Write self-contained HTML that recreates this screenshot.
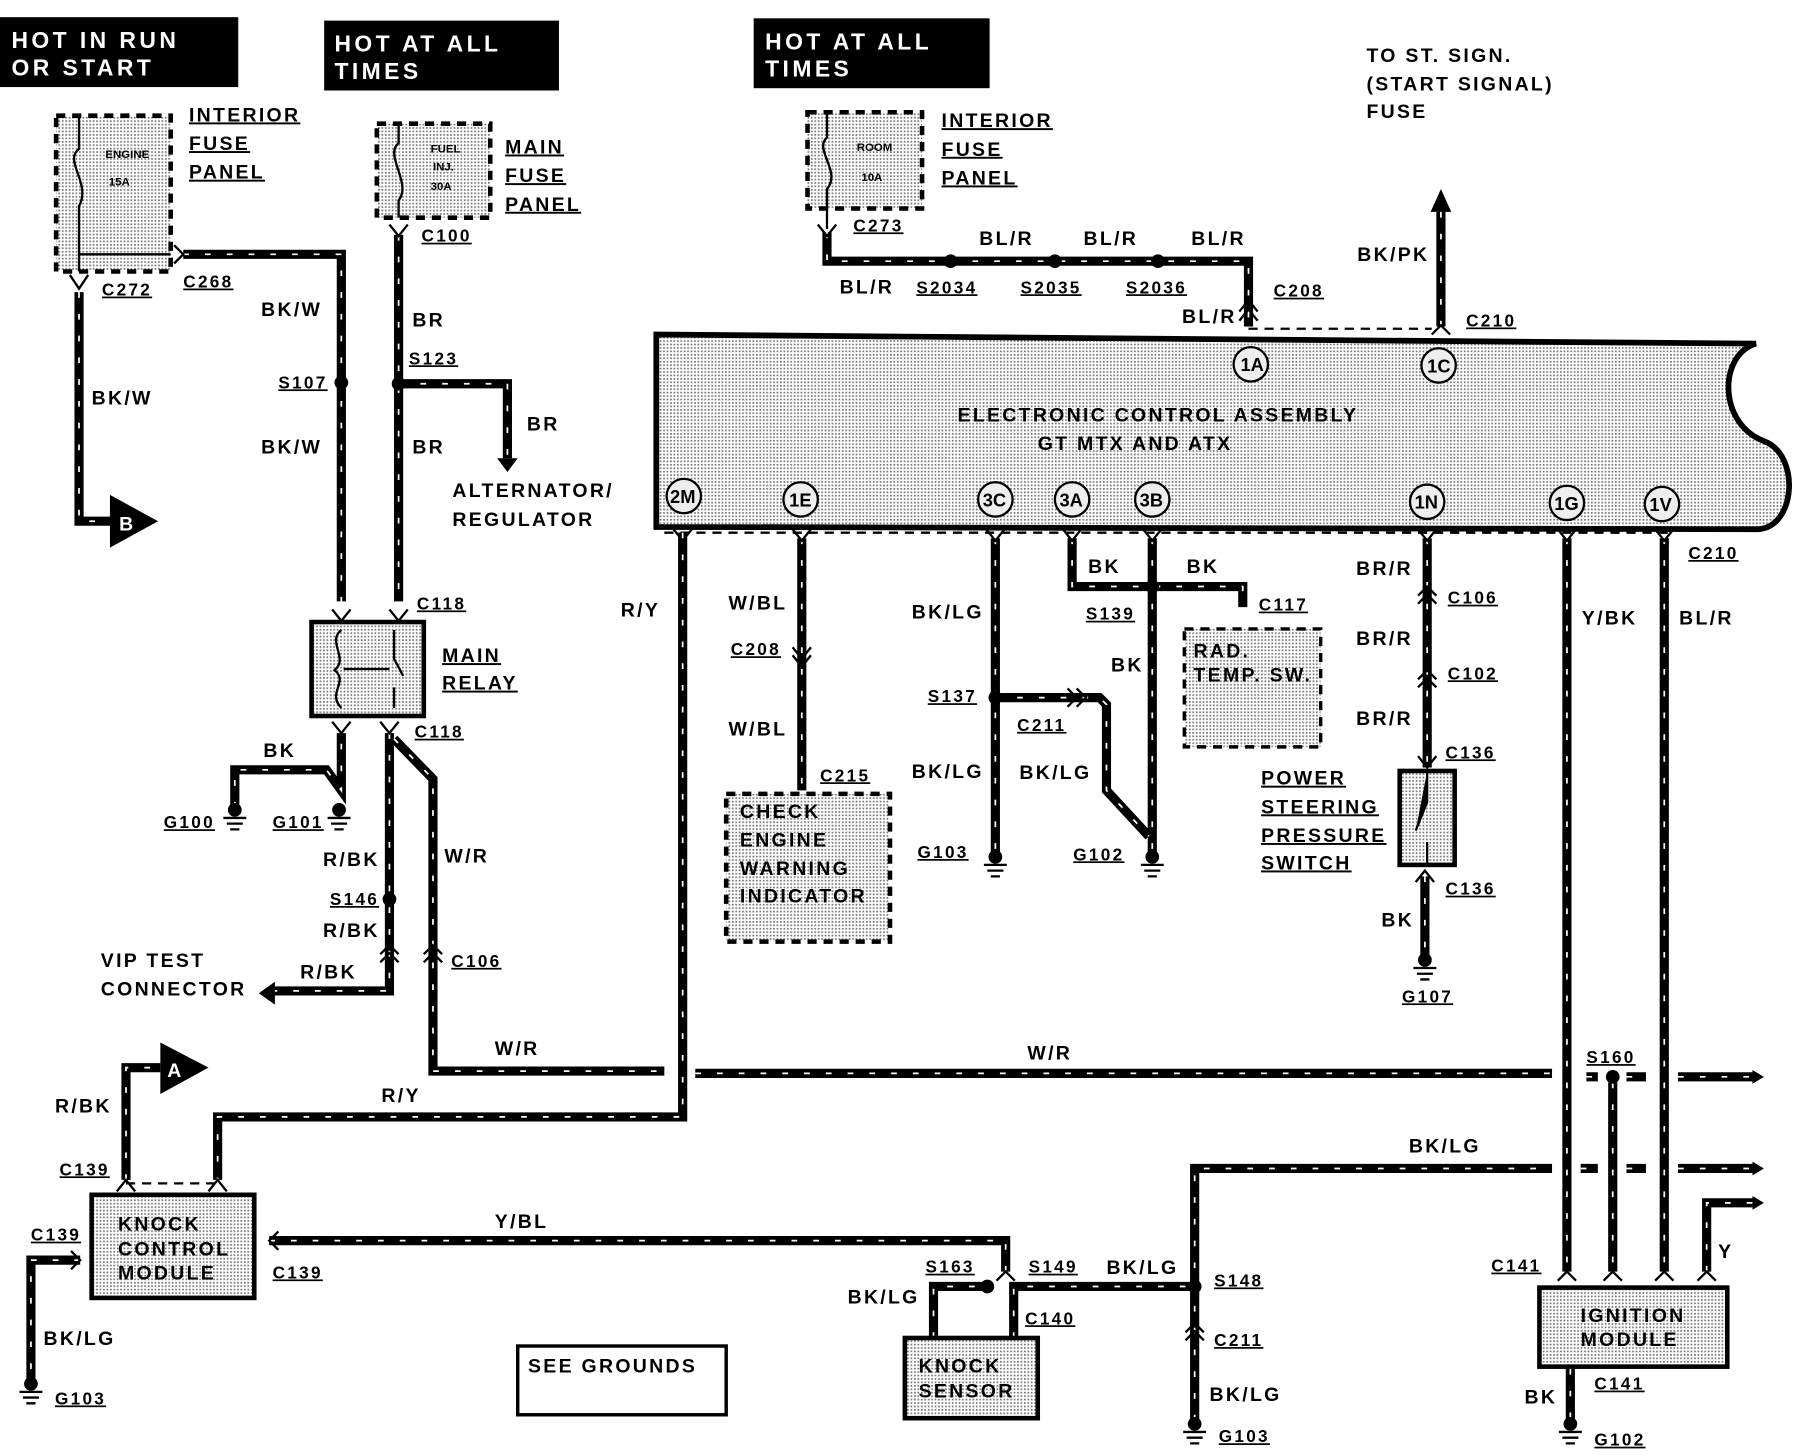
<!DOCTYPE html>
<html><head><meta charset="utf-8"><style>
html,body{margin:0;padding:0;background:#fff;}
svg{display:block;}
text{font-family:"Liberation Sans",sans-serif;font-weight:bold;font-size:17px;letter-spacing:2px;fill:#000;}
.u{text-decoration:underline;}
.h{fill:#fff;font-size:20px;letter-spacing:3px;}
.s{font-size:15px;}
.t{font-size:10px;letter-spacing:0;}
.c{font-size:16px;letter-spacing:0;}
</style></head><body>
<svg width="1796" height="1456" viewBox="0 0 1568 1271" preserveAspectRatio="none" xmlns="http://www.w3.org/2000/svg">
<defs>
<pattern id="st" width="3" height="3" patternUnits="userSpaceOnUse"><rect width="3" height="3" fill="#fff"/><rect width="1.5" height="1.5" fill="#777"/></pattern>
<g id="wires" fill="none">
<path d="M69 255 V455 H100"/>
<path d="M160 222 H298 V525"/>
<path d="M348 205 V525"/>
<path d="M348 335 H443 V400"/>
<path d="M205 705 V672 H285 L298 690 V640"/>
<path d="M340 640 V865 H240"/>
<path d="M344 645 L378 680 V935 H580"/>
<path d="M607 937 H1355 M1385 940 H1395 M1420 940 H1437 M1465 940 H1530"/>
<path d="M596 465 V975 H190 V1030"/>
<path d="M110 1030 V932 H140"/>
<path d="M70 1100 H27 V1205"/>
<path d="M235 1083 H878 V1110"/>
<path d="M815 1168 V1123 H860 M885 1168 V1123 H1043"/>
<path d="M1043 1240 V1020 H1355 M1380 1020 H1395 M1420 1020 H1437 M1465 1020 H1530"/>
<path d="M1368 470 V1110 M1408 945 V1110 M1453 470 V1110 M1490 1110 V1050 H1530"/>
<path d="M1371 1195 V1240"/>
<path d="M722 203 V228 H1090 V285"/>
<path d="M1258 285 V185"/>
<path d="M700 470 V690"/>
<path d="M869 470 V745 M869 609 H960 L966 615 V690 L1003 730"/>
<path d="M936 470 V512 H1085 V530 M1006 470 V745"/>
<path d="M1246 470 V670 M1244 765 V835"/>
</g>
</defs>
<rect width="1568" height="1271" fill="#fff"/>
<rect x="0" y="15" width="208" height="61" fill="#000"/>
<text class="h" x="10" y="42">HOT IN RUN</text><text class="h" x="10" y="66">OR START</text>
<rect x="283" y="18" width="205" height="61" fill="#000"/>
<text class="h" x="292" y="45">HOT AT ALL</text><text class="h" x="292" y="69">TIMES</text>
<rect x="658" y="16" width="206" height="61" fill="#000"/>
<text class="h" x="668" y="43">HOT AT ALL</text><text class="h" x="668" y="67">TIMES</text>
<text x="1193" y="54">TO ST. SIGN.</text><text x="1193" y="79">(START SIGNAL)</text><text x="1193" y="103">FUSE</text>
<rect x="49" y="101" width="100" height="136" fill="url(#st)" stroke="#000" stroke-width="4" stroke-dasharray="8 6"/>
<text class="t" x="92" y="138">ENGINE</text><text class="t" x="95" y="162">15A</text>
<path d="M69 101 V130 C55 140 80 160 69 180 V237 M69 222 H149" stroke="#000" stroke-width="2" fill="none"/>
<text class="u" x="165" y="106">INTERIOR</text><text class="u" x="165" y="131">FUSE</text><text class="u" x="165" y="156">PANEL</text>
<rect x="329" y="108" width="99" height="82" fill="url(#st)" stroke="#000" stroke-width="4" stroke-dasharray="8 6"/>
<text class="t" x="376" y="133">FUEL</text><text class="t" x="378" y="149">INJ.</text><text class="t" x="376" y="166">30A</text>
<path d="M348 108 V125 C335 135 360 160 348 175 V190" stroke="#000" stroke-width="2" fill="none"/>
<text class="u" x="441" y="134">MAIN</text><text class="u" x="441" y="159">FUSE</text><text class="u" x="441" y="184">PANEL</text>
<rect x="705" y="98" width="100" height="84" fill="url(#st)" stroke="#000" stroke-width="4" stroke-dasharray="8 6"/>
<text class="t" x="748" y="132">ROOM</text><text class="t" x="752" y="158">10A</text>
<path d="M722 98 V120 C710 130 735 150 722 165 V200" stroke="#000" stroke-width="2" fill="none"/>
<text class="u" x="822" y="111">INTERIOR</text><text class="u" x="822" y="136">FUSE</text><text class="u" x="822" y="161">PANEL</text>
<path d="M573 292 L1533 300 C1500 310 1500 370 1540 385 C1572 397 1568 460 1535 462 L573 460 Z" fill="url(#st)" stroke="#000" stroke-width="5"/>
<text x="836" y="368">ELECTRONIC CONTROL ASSEMBLY</text><text x="906" y="393">GT MTX AND ATX</text>
<g fill="#eee" stroke="#000" stroke-width="2">
<circle cx="1092" cy="318" r="15"/><circle cx="1256" cy="319" r="15"/><circle cx="597" cy="433" r="15"/><circle cx="699" cy="436" r="15"/><circle cx="869" cy="436" r="15"/><circle cx="936" cy="436" r="15"/><circle cx="1006" cy="436" r="15"/><circle cx="1246" cy="438" r="15"/><circle cx="1368" cy="439" r="15"/><circle cx="1451" cy="440" r="15"/></g>
<g><text class="c" x="1083" y="324">1A</text><text class="c" x="1246" y="325">1C</text><text class="c" x="585" y="439">2M</text><text class="c" x="689" y="442">1E</text><text class="c" x="858" y="442">3C</text><text class="c" x="925" y="442">3A</text><text class="c" x="995" y="442">3B</text><text class="c" x="1235" y="444">1N</text><text class="c" x="1357" y="445">1G</text><text class="c" x="1440" y="446">1V</text></g>
<path d="M580 465 H1460 M1090 287 H1250" stroke="#000" stroke-width="2" stroke-dasharray="8 6"/>
<use href="#wires" stroke="#000" stroke-width="8"/>
<use href="#wires" stroke="#fff" stroke-width="1.5" stroke-dasharray="5 14"/>
<!-- connector marks -->
<g stroke="#000" stroke-width="2" fill="none">
<path d="M61 240 L69 252 L77 240"/><path d="M152 214 L160 222 L152 230"/><path d="M340 196 L348 206 L356 196"/>
<path d="M714 196 L722 206 L730 196"/>
<path d="M290 532 L298 542 L306 532 M340 532 L348 542 L356 532"/>
<path d="M290 630 L298 640 L306 630 M332 630 L340 640 L348 630"/>
<path d="M1082 272 L1090 262 L1098 272 M1082 280 L1090 270 L1098 280"/>
<path d="M1250 292 L1258 284 L1266 292"/>
<path d="M588 462 L596 472 L604 462 M692 462 L700 472 L708 462 M861 462 L869 472 L877 462 M928 462 L936 472 L944 462 M998 462 L1006 472 L1014 462 M1238 462 L1246 472 L1254 462 M1360 462 L1368 472 L1376 462 M1445 462 L1453 472 L1461 462"/>
<path d="M692 565 L700 575 L708 565 M692 572 L700 582 L708 572"/>
<path d="M1238 520 L1246 512 L1254 520 M1238 527 L1246 519 L1254 527"/>
<path d="M1238 593 L1246 585 L1254 593 M1238 600 L1246 592 L1254 600"/>
<path d="M1238 660 L1246 670 L1254 660 M1236 770 L1244 760 L1252 770"/>
<path d="M932 601 L940 609 L932 617 M940 601 L948 609 L940 617"/>
<path d="M332 833 L340 825 L348 833 M332 840 L340 832 L348 840 M370 833 L378 825 L386 833 M370 840 L378 832 L386 840"/>
<path d="M1035 1163 L1043 1155 L1051 1163 M1035 1170 L1043 1162 L1051 1170"/>
<path d="M102 1040 L110 1030 L118 1040 M182 1040 L190 1030 L198 1040"/>
<path d="M243 1075 L235 1083 L243 1091 M62 1092 L70 1100 L62 1108"/>
<path d="M870 1118 L878 1110 L886 1118"/>
<path d="M1360 1118 L1368 1110 L1376 1118 M1400 1118 L1408 1110 L1416 1118 M1445 1118 L1453 1110 L1461 1118 M1482 1118 L1490 1110 L1498 1118"/>
</g>
<polygon points="96,432 138,455 96,478" fill="#000"/><text x="104" y="463" style="fill:#fff">B</text>
<polygon points="140,910 182,932 140,955" fill="#000"/><text x="146" y="940" style="fill:#fff">A</text>
<polygon points="434,400 452,400 443,412" fill="#000"/>
<polygon points="240,857 240,877 226,867" fill="#000"/>
<polygon points="1249,185 1267,185 1258,165" fill="#000"/>
<g fill="#000"><polygon points="1530,934 1540,940 1530,946"/><polygon points="1530,1014 1540,1020 1530,1026"/><polygon points="1530,1044 1540,1050 1530,1056"/></g>
<g fill="#000"><circle cx="298" cy="334" r="6"/><circle cx="348" cy="335" r="6"/><circle cx="340" cy="785" r="6"/><circle cx="830" cy="228" r="6"/><circle cx="921" cy="228" r="6"/><circle cx="1011" cy="228" r="6"/><circle cx="869" cy="609" r="6"/><circle cx="1006" cy="512" r="6"/><circle cx="1408" cy="940" r="6"/><circle cx="1043" cy="1123" r="6"/><circle cx="862" cy="1123" r="6"/></g>
<g stroke="#000" stroke-width="2" fill="#000">
<circle cx="205" cy="707" r="5"/><path d="M195 714 H215 M198 719 H212 M201 724 H209"/>
<circle cx="296" cy="707" r="5"/><path d="M286 714 H306 M289 719 H303 M292 724 H300"/>
<circle cx="869" cy="748" r="5"/><path d="M859 755 H879 M862 760 H876 M865 765 H873"/>
<circle cx="1006" cy="748" r="5"/><path d="M996 755 H1016 M999 760 H1013 M1002 765 H1010"/>
<circle cx="1244" cy="838" r="5"/><path d="M1234 845 H1254 M1237 850 H1251 M1240 855 H1248"/>
<circle cx="27" cy="1208" r="5"/><path d="M17 1215 H37 M20 1220 H34 M23 1225 H31"/>
<circle cx="1043" cy="1243" r="5"/><path d="M1033 1250 H1053 M1036 1255 H1050 M1039 1260 H1047"/>
<circle cx="1371" cy="1243" r="5"/><path d="M1361 1250 H1381 M1364 1255 H1378 M1367 1260 H1375"/>
</g>
<rect x="272" y="543" width="98" height="82" fill="url(#st)" stroke="#000" stroke-width="4"/>
<path d="M298 550 C285 560 305 575 292 585 C305 595 285 605 298 618 M344 550 V575 L352 590 M344 600 V618 M300 584 H340" stroke="#000" stroke-width="2" fill="none"/>
<text class="u" x="386" y="578">MAIN</text><text class="u" x="386" y="602">RELAY</text>
<rect x="634" y="693" width="143" height="129" fill="url(#st)" stroke="#000" stroke-width="4" stroke-dasharray="8 6"/>
<text x="646" y="714">CHECK</text><text x="646" y="739">ENGINE</text><text x="646" y="764">WARNING</text><text x="646" y="788">INDICATOR</text>
<rect x="1034" y="549" width="119" height="103" fill="url(#st)" stroke="#000" stroke-width="3" stroke-dasharray="8 6"/>
<text x="1042" y="574">RAD.</text><text x="1042" y="595">TEMP. SW.</text>
<rect x="1222" y="673" width="48" height="82" fill="url(#st)" stroke="#000" stroke-width="4"/>
<path d="M1246 673 V700 L1236 725 M1246 735 V755" stroke="#000" stroke-width="2"/>
<text class="u" x="1101" y="685">POWER</text><text class="u" x="1101" y="710">STEERING</text><text class="u" x="1101" y="735">PRESSURE</text><text class="u" x="1101" y="759">SWITCH</text>
<rect x="80" y="1043" width="142" height="90" fill="url(#st)" stroke="#000" stroke-width="4"/>
<text x="103" y="1074">KNOCK</text><text x="103" y="1096">CONTROL</text><text x="103" y="1117">MODULE</text>
<path d="M110 1033 H190" stroke="#000" stroke-width="2" stroke-dasharray="8 6"/>
<rect x="790" y="1168" width="116" height="70" fill="url(#st)" stroke="#000" stroke-width="4"/>
<text x="802" y="1198">KNOCK</text><text x="802" y="1220">SENSOR</text>
<rect x="1344" y="1124" width="164" height="69" fill="url(#st)" stroke="#000" stroke-width="4"/>
<text x="1380" y="1154">IGNITION</text><text x="1380" y="1175">MODULE</text>
<rect x="452" y="1175" width="182" height="60" fill="#fff" stroke="#000" stroke-width="3"/>
<text x="461" y="1198">SEE GROUNDS</text>
<g>
<text class="s u" x="89" y="258">C272</text><text class="s u" x="160" y="251">C268</text>
<text x="80" y="353">BK/W</text><text x="228" y="276">BK/W</text><text x="228" y="396">BK/W</text>
<text class="s u" x="243" y="339">S107</text><text class="s u" x="368" y="211">C100</text><text class="s u" x="357" y="318">S123</text>
<text x="360" y="285">BR</text><text x="360" y="396">BR</text><text x="460" y="376">BR</text>
<text x="395" y="434">ALTERNATOR/</text><text x="395" y="459">REGULATOR</text>
<text class="s u" x="364" y="532">C118</text><text class="s u" x="362" y="644">C118</text>
<text x="230" y="661">BK</text><text class="s u" x="143" y="723">G100</text><text class="s u" x="238" y="723">G101</text>
<text x="282" y="756">R/BK</text><text x="388" y="753">W/R</text><text class="s u" x="288" y="790">S146</text><text x="282" y="818">R/BK</text>
<text class="s u" x="394" y="844">C106</text><text x="262" y="854">R/BK</text>
<text x="88" y="844">VIP TEST</text><text x="88" y="869">CONNECTOR</text>
<text x="432" y="921">W/R</text><text x="897" y="925">W/R</text><text x="542" y="538">R/Y</text><text x="333" y="962">R/Y</text>
<text x="48" y="971">R/BK</text><text class="s u" x="52" y="1026">C139</text><text class="s u" x="27" y="1083">C139</text>
<text x="38" y="1174">BK/LG</text><text class="s u" x="48" y="1226">G103</text>
<text x="432" y="1072">Y/BL</text><text class="s u" x="238" y="1116">C139</text>
<text class="s u" x="808" y="1111">S163</text><text x="740" y="1138">BK/LG</text><text class="s u" x="895" y="1156">C140</text><text class="s u" x="898" y="1111">S149</text>
<text x="966" y="1112">BK/LG</text><text class="s u" x="1060" y="1123">S148</text><text class="s u" x="1060" y="1175">C211</text><text x="1056" y="1223">BK/LG</text><text class="s u" x="1064" y="1259">G103</text>
<text x="1230" y="1006">BK/LG</text><text class="s u" x="1385" y="928">S160</text>
<text class="s u" x="1302" y="1110">C141</text><text x="1331" y="1225">BK</text><text class="s u" x="1392" y="1213">C141</text><text class="s u" x="1392" y="1262">G102</text><text x="1500" y="1098">Y</text>
<text x="1381" y="545">Y/BK</text><text x="1466" y="545">BL/R</text><text class="s u" x="1474" y="488">C210</text>
<text class="s u" x="745" y="202">C273</text><text x="733" y="256">BL/R</text><text x="855" y="214">BL/R</text><text x="946" y="214">BL/R</text><text x="1040" y="214">BL/R</text><text x="1032" y="282">BL/R</text>
<text class="s u" x="800" y="256">S2034</text><text class="s u" x="891" y="256">S2035</text><text class="s u" x="983" y="256">S2036</text><text class="s u" x="1112" y="259">C208</text>
<text x="1185" y="228">BK/PK</text><text class="s u" x="1280" y="285">C210</text>
<text x="636" y="532">W/BL</text><text class="s u" x="638" y="572">C208</text><text x="636" y="642">W/BL</text><text class="s u" x="716" y="682">C215</text>
<text x="796" y="540">BK/LG</text><text class="s u" x="810" y="613">S137</text><text class="s u" x="888" y="638">C211</text><text x="796" y="679">BK/LG</text><text x="890" y="680">BK/LG</text><text class="s u" x="801" y="749">G103</text><text class="s u" x="937" y="751">G102</text>
<text x="950" y="500">BK</text><text x="1036" y="500">BK</text><text x="970" y="586">BK</text><text class="s u" x="948" y="541">S139</text><text class="s u" x="1099" y="533">C117</text>
<text x="1184" y="502">BR/R</text><text class="s u" x="1264" y="527">C106</text><text x="1184" y="563">BR/R</text><text class="s u" x="1264" y="593">C102</text><text x="1184" y="633">BR/R</text><text class="s u" x="1262" y="662">C136</text>
<text class="s u" x="1262" y="781">C136</text><text x="1206" y="809">BK</text><text class="s u" x="1224" y="875">G107</text>
</g>
</svg>
</body></html>
